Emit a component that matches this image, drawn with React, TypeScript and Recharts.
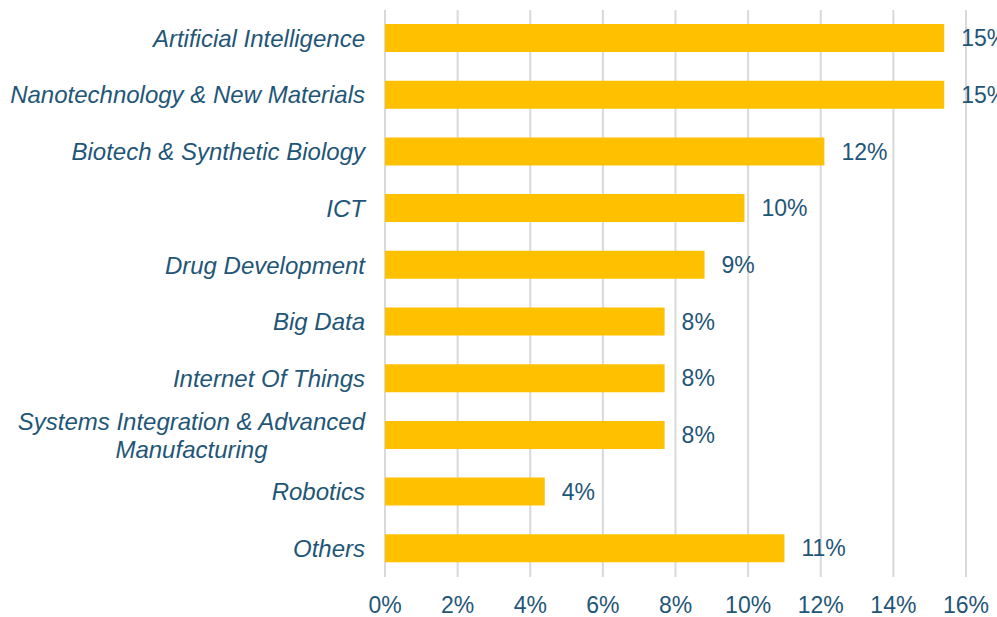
import React from "react";
import {
  BarChart,
  Bar,
  XAxis,
  YAxis,
  CartesianGrid,
  LabelList
} from "recharts";

const categories = [
  "Artificial Intelligence",
  "Nanotechnology & New Materials",
  "Biotech & Synthetic Biology",
  "ICT",
  "Drug Development",
  "Big Data",
  "Internet Of Things",
  "Systems Integration & Advanced Manufacturing",
  "Robotics",
  "Others"
];

const shares = [15.4, 15.4, 12.1, 9.9, 8.8, 7.7, 7.7, 7.7, 4.4, 11.0];

const xTicks = [0, 2, 4, 6, 8, 10, 12, 14, 16];

const data = categories.map((name, i) => ({ name, value: shares[i] }));

const TEXT = "#1F5677";
const FONT = "'Liberation Sans', Arial, sans-serif";
const SIZE = 23;
const CAT_SIZE = 24;

const CategoryTick = (props: any) => {
  const { x, y, payload } = props;
  const label: string = payload.value;
  if (label.length > 36) {
    const words = label.split(" ");
    const first = words.slice(0, -1).join(" ");
    const second = words[words.length - 1];
    const half = (first.length * 0.482 * CAT_SIZE) / 2;
    return (
      <g>
        <text x={x} y={y - 14} dy="0.35em" textAnchor="end" fill={TEXT}
          fontSize={CAT_SIZE} fontStyle="italic" fontFamily={FONT}>
          {first}
        </text>
        <text x={x - half} y={y + 14} dy="0.35em" textAnchor="middle" fill={TEXT}
          fontSize={CAT_SIZE} fontStyle="italic" fontFamily={FONT}>
          {second}
        </text>
      </g>
    );
  }
  return (
    <text x={x} y={y} dy="0.35em" textAnchor="end" fill={TEXT}
      fontSize={CAT_SIZE} fontStyle="italic" fontFamily={FONT}>
      {label}
    </text>
  );
};

const App: React.FC = () => {
  return (
    <div style={{ position: "absolute", left: 0, top: 0, background: "#fff" }}>
      <BarChart
        width={997}
        height={617}
        data={data}
        layout="vertical"
        margin={{ top: 10, right: 31, left: 0, bottom: 0 }}
        barSize={28}
      >
        <CartesianGrid horizontal={false} stroke="#d9d9d9" strokeWidth={2} />
        <XAxis
          type="number"
          domain={[0, 16]}
          ticks={xTicks}
          tickFormatter={(v: number) => `${v}%`}
          axisLine={false}
          tickLine={false}
          tickSize={0}
          tickMargin={20}
          height={40}
          interval={0}
          tick={{ fill: TEXT, fontSize: SIZE, fontFamily: FONT }}
        />
        <YAxis
          type="category"
          dataKey="name"
          width={385}
          axisLine={false}
          tickLine={false}
          tickSize={0}
          tickMargin={20}
          interval={0}
          tick={<CategoryTick />}
        />
        <Bar dataKey="value" fill="#FFC000" isAnimationActive={false}>
          <LabelList
            dataKey="value"
            position="right"
            offset={17}
            formatter={(v: any) => `${Math.round(Number(v))}%`}
            style={{ fill: TEXT, fontSize: SIZE, fontFamily: FONT }}
          />
        </Bar>
      </BarChart>
    </div>
  );
};

export default App;
